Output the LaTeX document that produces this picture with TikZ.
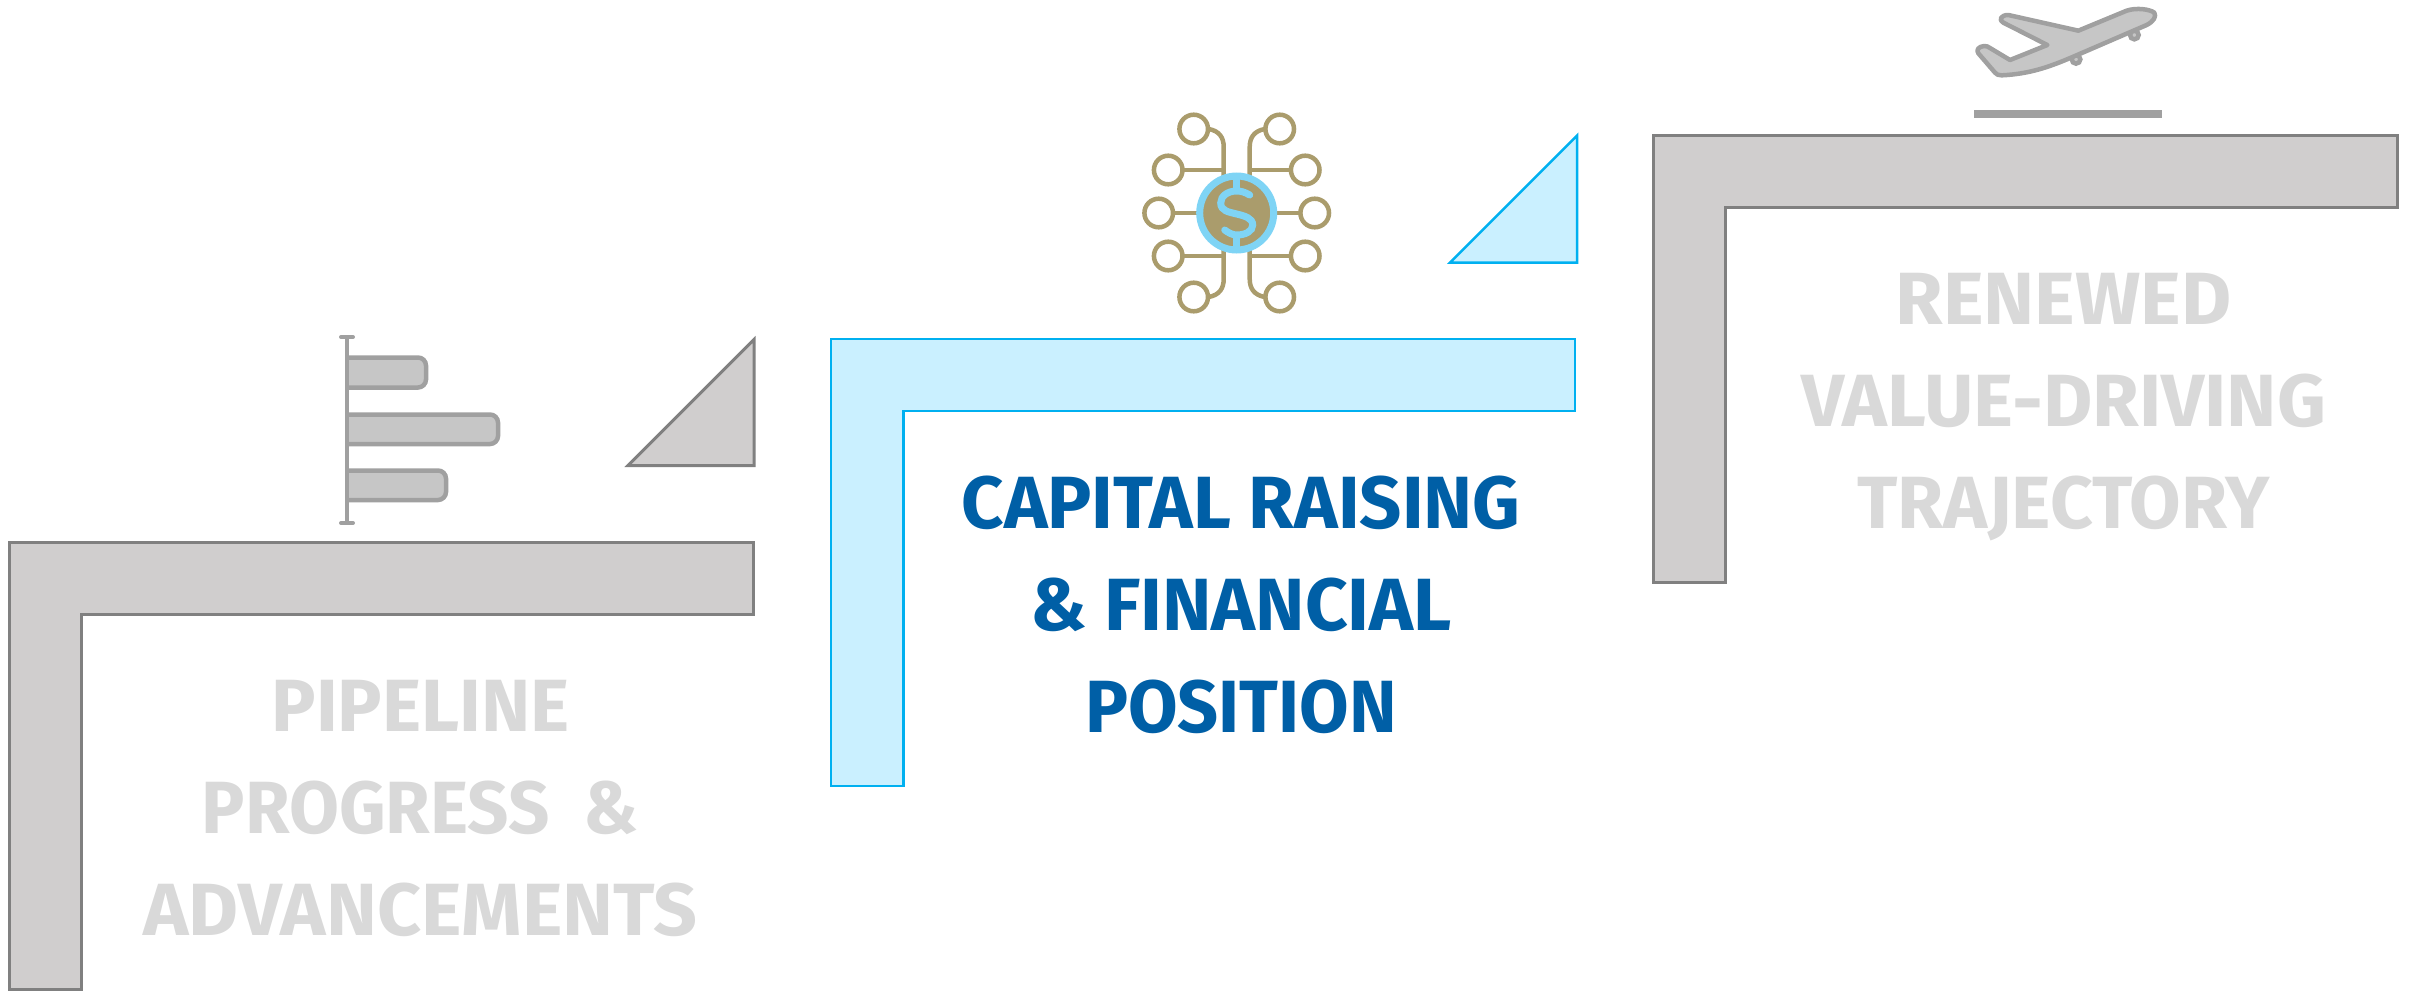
\documentclass[tikz,border=0pt]{standalone}
\usepackage{fontspec}
\usepackage{graphicx}
\setmainfont{Fira Sans}
\definecolor{grayfill}{HTML}{D0CECE}
\definecolor{grayedge}{HTML}{808080}
\definecolor{bluefill}{HTML}{CAF0FF}
\definecolor{blueedge}{HTML}{00B0F0}
\definecolor{greytext}{HTML}{D9D9D9}
\definecolor{bluetext}{HTML}{005FA6}
\definecolor{gold}{HTML}{AA9C6C}
\definecolor{skyring}{HTML}{7FD4F5}
\definecolor{iconedge}{HTML}{A0A0A0}
\definecolor{iconfill}{HTML}{C6C6C6}
\newcommand{\fitw}[2]{\resizebox{#1pt}{\height}{#2}}
\tikzset{
  graystep/.style={draw=grayedge,fill=grayfill,line width=1.5pt,line join=miter},
  bluestep/.style={draw=blueedge,fill=bluefill,line width=1.25pt,line join=miter},
  label text/.style={inner sep=0pt,outer sep=0pt,align=center,anchor=base,
    font=\fontsize{37}{51}\bfseries\selectfont},
  chart/.style={draw=iconedge,fill=iconfill,line width=2.25pt,rounded corners=4pt},
  goldline/.style={draw=gold,line width=2.25pt},
  nodering/.style={draw=gold,line width=2.25pt,fill=white},
}
\begin{document}
\begin{tikzpicture}[x=0.5pt,y=-0.5pt]
\useasboundingbox (0,0) rectangle (2420,991);
% steps
\draw[graystep] (9,542) -- (753,542) -- (753,614) -- (81,614) -- (81,989) -- (9,989) -- cycle;
\draw[bluestep] (831,339) -- (1575,339) -- (1575,411) -- (903.5,411) -- (903.5,786) -- (831,786) -- cycle;
\draw[graystep] (1653,135) -- (2397,135) -- (2397,207) -- (1725,207) -- (1725,582) -- (1653,582) -- cycle;
% triangles
\draw[graystep] (628,465.5) -- (754,339.5) -- (754,465.5) -- cycle;
\draw[bluestep] (1450,262.5) -- (1577,135.5) -- (1577,262.5) -- cycle;
% labels
\node[label text,text=greytext] (pipeline) at (420.5,935)
  {\fitw{149}{PIPELINE}\\\fitw{218.5}{PROGRESS\ \ \&}\\\fitw{277}{ADVANCEMENTS}};
\node[label text,text=bluetext] (capital) at (1241,732)
  {\fitw{279.5}{CAPITAL RAISING}\\\fitw{211}{\& FINANCIAL}\\\fitw{156}{POSITION}};
\node[label text,text=greytext] (renewed) at (2063.5,528)
  {\fitw{168}{RENEWED}\\\fitw{262.5}{VALUE-DRIVING}\\\fitw{206}{TRAJECTORY}};
% bar chart icon
\draw[chart] (347,357.5) -- (426,357.5) -- (426,387.5) -- (347,387.5);
\draw[chart] (347,414.5) -- (498,414.5) -- (498,444) -- (347,444);
\draw[chart] (347,470.5) -- (446,470.5) -- (446,500) -- (347,500);
\draw[draw=iconedge,line width=2.25pt] (347,337) -- (347,523);
\draw[draw=iconedge,line width=2pt,line cap=round] (341,337) -- (353,337);
\draw[draw=iconedge,line width=2pt,line cap=round] (341,523) -- (353,523);
% money icon
\foreach \s in {-1,1}{
  \begin{scope}[shift={(1236.7,213)},xscale=\s]
    \draw[goldline] (-28,-84) .. controls (-17,-82) and (-13,-75) .. (-13,-66) -- (-13,-30);
    \draw[goldline] (-13,-43) -- (-54,-43);
    \draw[goldline] (-38,0) -- (-78,0);
    \draw[goldline] (-13,43) -- (-54,43);
    \draw[goldline] (-28,84) .. controls (-17,82) and (-13,75) .. (-13,66) -- (-13,30);
    \draw[nodering] (-43,-84) circle (14.3);
    \draw[nodering] (-68.5,-43) circle (14.3);
    \draw[nodering] (-78,0) circle (14.3);
    \draw[nodering] (-68.5,43) circle (14.3);
    \draw[nodering] (-43,84) circle (14.3);
  \end{scope}
}
\fill[gold,draw=skyring,line width=3.5pt] (1236.7,213) circle (37);
\begin{scope}[shift={(1236.7,213)}]
  \draw[skyring,line width=3.25pt] (0,-36) -- (0,-22);
  \draw[skyring,line width=3.25pt] (0,36) -- (0,22);
  \draw[skyring,line width=3.5pt,line cap=round]
    (13,-18) .. controls (8,-21) and (4,-22) .. (0,-22)
    .. controls (-9,-22) and (-16,-17) .. (-16,-10)
    .. controls (-16,-2) and (-8,-1) .. (0,1)
    .. controls (8,3) and (16,5) .. (16,12)
    .. controls (16,18) and (9,22) .. (0,22)
    .. controls (-4,22) and (-8,20) .. (-12,17);
\end{scope}
% airplane icon
\fill[iconedge] (1974,110) rectangle (2162,118);
\begin{scope}[shift={(1960,0)},scale=1/3]
  \draw[draw=iconedge,fill=iconfill,line width=2.25pt] (348,178) circle (13);
  \draw[draw=iconedge,fill=iconfill,line width=2.25pt] (523,105) circle (13);
  \draw[draw=iconedge,fill=iconfill,line width=2.25pt,line join=round]
    (355,92) -- (500,32)
    .. controls (530,22) and (570,28) .. (583,38)
    .. controls (590,50) and (580,65) .. (560,75)
    -- (340,170)
    .. controls (270,200) and (210,222) .. (125,226)
    .. controls (115,226) and (110,224) .. (105,218)
    -- (55,160)
    .. controls (48,150) and (55,140) .. (72,138)
    .. controls (80,138) and (85,140) .. (90,144)
    -- (150,180) -- (262,135) -- (130,68)
    .. controls (115,60) and (122,45) .. (145,45)
    -- cycle;
\end{scope}
\end{tikzpicture}
\end{document}
